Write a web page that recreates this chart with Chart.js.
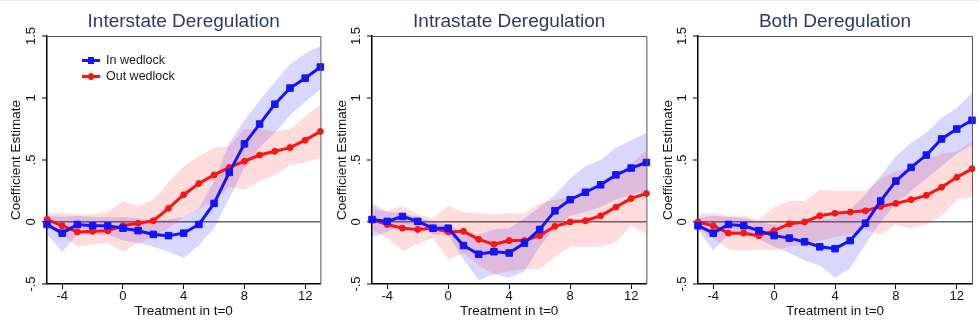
<!DOCTYPE html>
<html>
<head>
<meta charset="utf-8">
<script src="https://cdn.jsdelivr.net/npm/chart.js@4.4.1/dist/chart.umd.min.js"></script>
<style>
  html, body { margin: 0; padding: 0; background: #fff; }
  #wrap { position: relative; width: 979px; height: 328px; overflow: hidden; border-top: 1px solid #eee; box-sizing: border-box; }
  .panel { position: absolute; top: 0; width: 326px; height: 328px; }
  .leg { position: absolute; left: 82px; height: 16px; display: flex; align-items: center;
         font: 12.5px "Liberation Sans", Arial, sans-serif; color: #1a1a1a; }
  .ln { position: relative; width: 18px; height: 3px; margin-right: 6px; }
  .ln i { position: absolute; left: 6px; top: -2px; width: 6px; height: 7px; }
  .ln.red i { border-radius: 50%; }
</style>
</head>
<body>
<div id="wrap">
  <div class="panel" style="left:0"><canvas id="c1"></canvas></div>
  <div class="panel" style="left:326px"><canvas id="c2"></canvas></div>
  <div class="panel" style="left:652px"><canvas id="c3"></canvas></div>
  <div class="leg" style="top:51px"><span class="ln" style="background:rgb(20,20,250)"><i style="background:rgb(20,20,250)"></i></span><span>In wedlock</span></div>
  <div class="leg" style="top:67px"><span class="ln red" style="background:rgb(250,20,20)"><i style="background:rgb(250,20,20)"></i></span><span>Out wedlock</span></div>
</div>
<script>
// ---- data ----
const periods = [-5,-4,-3,-2,-1,0,1,2,3,4,5,6,7,8,9,10,11,12,13];
const xTicks = [-4, 0, 4, 8, 12];
const yTicks = [-0.5, 0, 0.5, 1, 1.5];
const yTickText = ['-.5', '0', '.5', '1', '1.5'];
const seriesNames = ['In wedlock', 'Out wedlock'];

// Interstate
const interIn   = [-0.02,-0.09,-0.02,-0.03,-0.03,-0.05,-0.07,-0.10,-0.11,-0.09,-0.02,0.15,0.40,0.63,0.79,0.95,1.08,1.16,1.25];
const interInLo = [-0.10,-0.24,-0.10,-0.10,-0.10,-0.15,-0.17,-0.20,-0.24,-0.29,-0.19,-0.05,0.19,0.44,0.60,0.72,0.86,0.97,1.07];
const interInHi = [0.05,0.04,0.05,0.04,0.04,0.04,0.03,0.01,0.02,0.04,0.11,0.33,0.64,0.82,0.98,1.13,1.27,1.36,1.42];
const interOut   = [0.02,-0.03,-0.08,-0.075,-0.07,-0.03,-0.01,0.01,0.11,0.22,0.31,0.38,0.44,0.49,0.54,0.57,0.60,0.66,0.73];
const interOutLo = [-0.05,-0.10,-0.20,-0.18,-0.17,-0.24,-0.17,-0.12,-0.05,0.04,0.10,0.17,0.28,0.26,0.33,0.38,0.46,0.48,0.52];
const interOutHi = [0.07,0.07,0.06,0.06,0.08,0.17,0.13,0.18,0.32,0.45,0.53,0.60,0.61,0.75,0.75,0.73,0.75,0.85,0.95];

// Intrastate
const intraIn   = [0.02,0.005,0.045,0.005,-0.05,-0.05,-0.19,-0.26,-0.24,-0.25,-0.17,-0.06,0.09,0.18,0.24,0.30,0.38,0.435,0.48];
const intraInLo = [-0.12,-0.08,-0.02,-0.04,-0.10,-0.10,-0.30,-0.47,-0.42,-0.45,-0.40,-0.20,-0.05,0.05,0.08,0.12,0.18,0.22,0.25];
const intraInHi = [0.15,0.08,0.07,0.04,0.00,-0.02,-0.08,-0.10,-0.06,-0.05,0.03,0.12,0.22,0.35,0.45,0.50,0.60,0.66,0.72];
const intraOut   = [0.02,-0.02,-0.05,-0.06,-0.05,-0.08,-0.075,-0.14,-0.18,-0.15,-0.15,-0.11,-0.035,0.00,0.01,0.05,0.12,0.19,0.23];
const intraOutLo = [-0.06,-0.13,-0.23,-0.18,-0.13,-0.30,-0.25,-0.35,-0.42,-0.40,-0.38,-0.38,-0.28,-0.20,-0.20,-0.20,-0.16,-0.03,-0.10];
const intraOutHi = [0.10,0.09,0.13,0.06,0.03,0.13,0.08,0.07,0.06,0.07,0.07,0.15,0.18,0.20,0.23,0.28,0.38,0.47,0.58];

// Both
const bothIn   = [-0.03,-0.09,-0.02,-0.03,-0.07,-0.11,-0.13,-0.16,-0.20,-0.215,-0.15,-0.01,0.17,0.33,0.44,0.54,0.67,0.75,0.82];
const bothInLo = [-0.06,-0.23,-0.10,-0.10,-0.14,-0.20,-0.25,-0.31,-0.35,-0.45,-0.37,-0.18,0.00,0.15,0.25,0.35,0.45,0.55,0.62];
const bothInHi = [0.03,0.05,0.04,0.03,0.00,-0.02,-0.02,-0.01,0.02,0.03,0.10,0.22,0.37,0.53,0.64,0.72,0.84,0.92,1.04];
const bothOut   = [0.00,-0.03,-0.09,-0.09,-0.11,-0.07,-0.015,0.00,0.05,0.07,0.08,0.09,0.125,0.15,0.18,0.215,0.28,0.36,0.43];
const bothOutLo = [-0.05,-0.13,-0.22,-0.23,-0.22,-0.23,-0.20,-0.18,-0.15,-0.12,-0.10,-0.06,-0.10,-0.02,-0.05,-0.02,0.05,0.18,0.20];
const bothOutHi = [0.06,0.07,0.05,0.05,0.02,0.12,0.17,0.17,0.26,0.25,0.25,0.25,0.35,0.41,0.43,0.50,0.55,0.57,0.65];

const BLUE = 'rgb(20,20,250)';
const RED = 'rgb(250,20,20)';
const FONT = '"Liberation Sans", Arial, sans-serif';

const pts = arr => periods.map((t, i) => ({ x: t, y: arr[i] }));

// gray frame on top and right of plot
const framePlugin = {
  id: 'frame',
  afterDatasetsDraw(chart) {
    const { ctx, chartArea: a } = chart;
    ctx.save();
    ctx.strokeStyle = '#555';
    ctx.lineWidth = 1;
    ctx.beginPath();
    ctx.moveTo(a.left, a.top + 0.5);
    ctx.lineTo(a.right + 0.5, a.top + 0.5);
    ctx.lineTo(a.right + 0.5, a.bottom);
    ctx.stroke();
    ctx.restore();
  }
};

function makePanel(id, title, yWidth, padRight, inw, inLo, inHi, outw, outLo, outHi) {
  const canvas = document.getElementById(id);
  canvas.width = 326; canvas.height = 328;
  new Chart(canvas, {
    type: 'line',
    data: {
      datasets: [
        { label: seriesNames[0], data: pts(inw), borderColor: BLUE, backgroundColor: BLUE,
          borderWidth: 3, pointStyle: 'rect', pointRadius: 4.6, pointBorderWidth: 1, clip: false, order: 0, fill: false },
        { label: seriesNames[1], data: pts(outw), borderColor: RED, backgroundColor: RED,
          borderWidth: 3, pointStyle: 'circle', pointRadius: 3, pointBorderWidth: 1, clip: false, order: 0, fill: false },
        { label: 'in lo', data: pts(inLo), borderWidth: 0, pointRadius: 0, fill: false, order: 2 },
        { label: 'in hi', data: pts(inHi), borderWidth: 0, pointRadius: 0, fill: 2, order: 2,
          backgroundColor: 'rgba(40,40,255,0.18)' },
        { label: 'out lo', data: pts(outLo), borderWidth: 0, pointRadius: 0, fill: false, order: 1 },
        { label: 'out hi', data: pts(outHi), borderWidth: 0, pointRadius: 0, fill: 4, order: 1,
          backgroundColor: 'rgba(255,40,40,0.16)' }
      ]
    },
    options: {
      responsive: false,
      animation: false,
      devicePixelRatio: 1,
      layout: { padding: { left: 0, right: padRight, top: 0, bottom: 0 } },
      elements: { line: { tension: 0 } },
      plugins: {
        legend: { display: false },
        tooltip: { enabled: false },
        title: {
          display: true, text: title, fullSize: false, color: '#2a3b64',
          font: { family: FONT, size: 19, weight: 'normal' },
          padding: { top: 9.6, bottom: 2.6 }
        }
      },
      scales: {
        x: {
          type: 'linear', min: -5, max: 13,
          afterBuildTicks: s => { s.ticks = xTicks.map(v => ({ value: v })); },
          afterFit: s => { s.height = 45; },
          ticks: { color: '#111', font: { family: FONT, size: 13 }, padding: 0, maxRotation: 0 },
          grid: { drawOnChartArea: false, tickLength: 5, tickColor: '#000', tickWidth: 1 },
          border: { color: '#000', width: 1.5 },
          title: { display: true, text: 'Treatment in t=0', color: '#111',
                   font: { family: FONT, size: 13.5 }, padding: { top: 0, bottom: 9.7 } }
        },
        y: {
          type: 'linear', min: -0.5, max: 1.5,
          afterBuildTicks: s => { s.ticks = yTicks.map(v => ({ value: v })); },
          afterFit: s => { s.width = yWidth; },
          ticks: {
            color: '#111', font: { family: FONT, size: 13 }, padding: 2,
            minRotation: 90, maxRotation: 90, crossAlign: 'center',
            callback: v => yTickText[yTicks.indexOf(v)]
          },
          grid: {
            tickLength: 5, tickColor: '#000', tickWidth: 1,
            color: c => (c.tick && c.tick.value === 0) ? '#666' : 'rgba(0,0,0,0)',
            lineWidth: c => (c.tick && c.tick.value === 0) ? 1.5 : 0
          },
          border: { color: '#000', width: 1.5 },
          title: { display: true, text: 'Coefficient Estimate', color: '#111',
                   font: { family: FONT, size: 13.5 }, padding: { top: 8, bottom: 0 } }
        }
      }
    },
    plugins: [framePlugin]
  });
}

makePanel('c1', 'Interstate Deregulation', 47, 3, interIn, interInLo, interInHi, interOut, interOutLo, interOutHi);
makePanel('c2', 'Intrastate Deregulation', 46, 5, intraIn, intraInLo, intraInHi, intraOut, intraOutLo, intraOutHi);
makePanel('c3', 'Both Deregulation', 46, 6, bothIn, bothInLo, bothInHi, bothOut, bothOutLo, bothOutHi);
</script>
</body>
</html>
